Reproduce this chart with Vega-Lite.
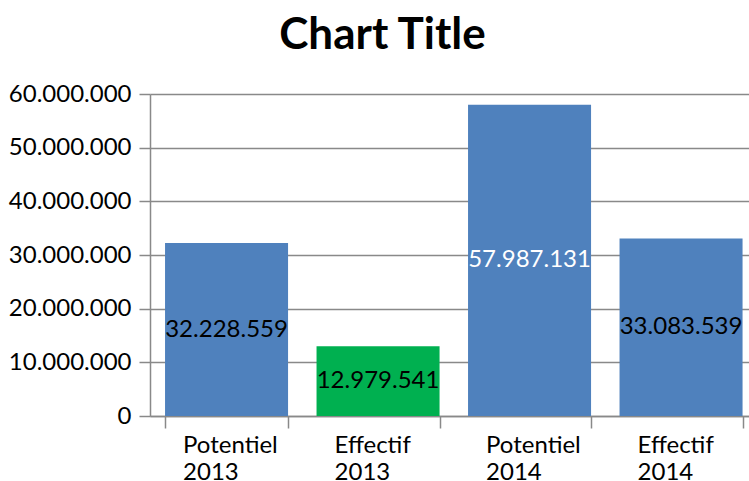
{
  "$schema": "https://vega.github.io/schema/vega-lite/v6.json",
  "width": 599,
  "height": 322,
  "autosize": {"type": "none"},
  "padding": {"left": 150, "top": 94, "right": 0, "bottom": 65},
  "background": "white",
  "config": {"font": "Lato", "view": {"stroke": null}},
  "title": {"text": "Chart Title", "font": "Lato", "fontSize": 44, "fontWeight": "bold", "color": "black", "anchor": "middle", "dx": -67, "offset": 24},
  "data": {"values": [
    {"cat": "Potentiel 2013", "value": 32228559, "kind": "blue"},
    {"cat": "Effectif 2013", "value": 12979541, "kind": "green"},
    {"cat": "Potentiel 2014", "value": 57987131, "kind": "blue"},
    {"cat": "Effectif 2014", "value": 33083539, "kind": "blue"}
  ]},
  "transform": [
    {"calculate": "datum.value / 2", "as": "mid"},
    {"calculate": "replace(replace(format(datum.value, ','), ',', '.'), ',', '.')", "as": "label"}
  ],
  "layer": [
    {
      "mark": {"type": "bar"},
      "encoding": {
        "x": {
          "field": "cat", "type": "nominal", "sort": null,
          "scale": {"paddingInner": 0.188, "paddingOuter": 0.0709, "align": 0.7},
          "axis": {
            "title": null, "labelAngle": 0,
            "labelExpr": "isValid(datum.value) ? split(datum.value, ' ') : ''",
            "labelFont": "Lato", "labelFontSize": 24, "labelColor": "black", "labelLineHeight": 27,
            "labelAlign": "left", "labelOffset": -44,
            "labelPadding": 5, "tickBand": "extent", "tickSize": 12, "tickColor": "#898989",
            "domainColor": "#898989", "domainWidth": 1.5, "tickWidth": 1.5
          }
        },
        "y": {
          "field": "value", "type": "quantitative",
          "scale": {"domain": [0, 60000000], "nice": false},
          "axis": {
            "title": null, "values": [0, 10000000, 20000000, 30000000, 40000000, 50000000, 60000000],
            "labelExpr": "replace(replace(format(datum.value, ','), ',', '.'), ',', '.')",
            "labelFont": "Lato", "labelFontSize": 24, "labelColor": "black",
            "labelPadding": 8, "tickSize": 11, "tickColor": "#898989", "tickWidth": 1.5,
            "domainColor": "#898989", "domainWidth": 1.5,
            "grid": true, "gridColor": "#898989", "gridWidth": 1.5
          }
        },
        "color": {"field": "kind", "type": "nominal", "scale": {"domain": ["blue", "green"], "range": ["#4F81BD", "#00B050"]}, "legend": null}
      }
    },
    {
      "mark": {"type": "text", "font": "Lato", "fontSize": 24, "baseline": "middle", "align": "center"},
      "encoding": {
        "x": {"field": "cat", "type": "nominal", "sort": null},
        "y": {"field": "mid", "type": "quantitative"},
        "text": {"field": "label"},
        "color": {"condition": {"test": "datum.value > 50000000", "value": "white"}, "value": "black"}
      }
    }
  ]
}
